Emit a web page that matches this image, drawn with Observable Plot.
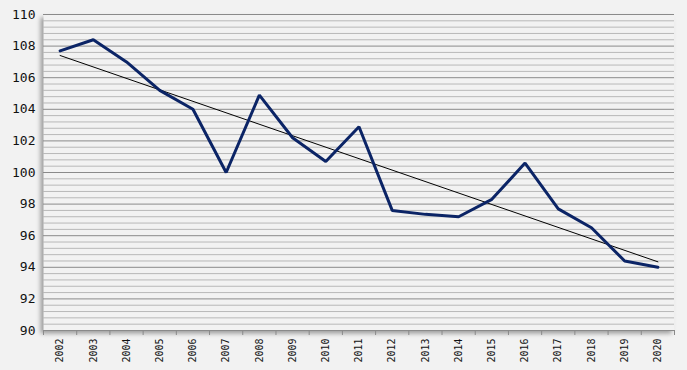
<!DOCTYPE html>
<html>
<head>
<meta charset="utf-8">
<script src="https://cdn.jsdelivr.net/npm/d3@7"></script>
<script src="https://cdn.jsdelivr.net/npm/@observablehq/plot@0.6"></script>
<style>
  html, body { margin: 0; padding: 0; background: #f2f2f2; }
  #chart svg { display: block; }
</style>
</head>
<body>
<div id="chart"></div>
<script>
const years = [2002, 2003, 2004, 2005, 2006, 2007, 2008, 2009, 2010, 2011, 2012, 2013, 2014, 2015, 2016, 2017, 2018, 2019, 2020];
const values = [107.7, 108.4, 107.0, 105.2, 104.0, 100.0, 104.9, 102.2, 100.7, 102.9, 97.6, 97.35, 97.2, 98.3, 100.6, 97.7, 96.5, 94.4, 94.0];
const yTicks = [90, 92, 94, 96, 98, 100, 102, 104, 106, 108, 110];

const data = years.map((year, i) => ({year, value: values[i]}));
const minorGrid = d3.range(90.4, 110, 0.4).filter(v => Math.abs(v / 2 - Math.round(v / 2)) > 0.01);
const boundaries = years.map(y => y - 0.5).concat([years[years.length - 1] + 0.5]);

const chart = Plot.plot({
  width: 687,
  height: 370,
  marginLeft: 43,
  marginRight: 13,
  marginTop: 14,
  marginBottom: 40,
  style: {background: "#f2f2f2", fontFamily: "'DejaVu Sans Mono', monospace"},
  x: {domain: [years[0] - 0.5, years[years.length - 1] + 0.5]},
  y: {domain: [90, 110]},
  marks: [
    Plot.frame({fill: "#f2f2f2", stroke: "none", className: "plotframe"}),
    Plot.ruleY(minorGrid, {stroke: "#b8b8b8", strokeWidth: 1}),
    Plot.ruleY(yTicks, {stroke: "#8a8a8a", strokeWidth: 1}),
    Plot.axisY(yTicks, {tickSize: 0, tickPadding: 8, fontSize: 13, fill: "#111", label: null}),
    Plot.ruleX(boundaries, {y1: 90, y2: 90, insetBottom: -5, stroke: "#8a8a8a"}),
    Plot.axisX(years, {tickSize: 0, tickRotate: -90, tickPadding: 8, fontSize: 10, fill: "#111", tickFormat: d => String(d), label: null}),
    Plot.linearRegressionY(data, {x: "year", y: "value", stroke: "#000", strokeWidth: 1, ci: 0}),
    Plot.line(data, {x: "year", y: "value", stroke: "#0b2466", strokeWidth: 3, strokeLinejoin: "miter"})
  ]
});

const fr = chart.querySelector(".plotframe");
if (fr) fr.style.filter = "drop-shadow(-3px 3px 2px rgba(0,0,0,0.35))";
document.getElementById("chart").appendChild(chart);
</script>
</body>
</html>
